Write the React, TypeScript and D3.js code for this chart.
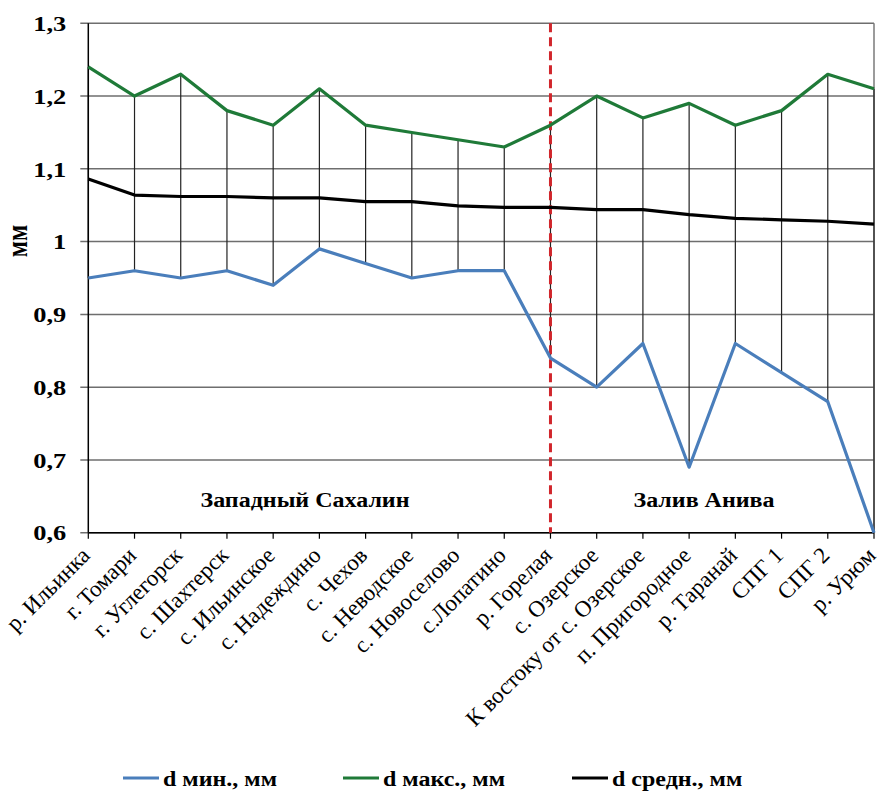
import React from "react";
import * as d3 from "d3";

const categories = [
  "р. Ильинка", "г. Томари", "г. Углегорск", "с. Шахтерск", "с. Ильинское",
  "с. Надеждино", "с. Чехов", "с. Неводское", "с. Новоселово", "с.Лопатино",
  "р. Горелая", "с. Озерское", "К востоку от с. Озерское", "п. Пригородное",
  "р. Таранай", "СПГ 1", "СПГ 2", "р. Урюм",
];
const dMin = [0.95, 0.96, 0.95, 0.96, 0.94, 0.99, 0.97, 0.95, 0.96, 0.96, 0.84, 0.80, 0.86, 0.69, 0.86, 0.82, 0.78, 0.60];
const dMax = [1.24, 1.20, 1.23, 1.18, 1.16, 1.21, 1.16, 1.15, 1.14, 1.13, 1.16, 1.20, 1.17, 1.19, 1.16, 1.18, 1.23, 1.21];
const dMean = [1.086, 1.064, 1.062, 1.062, 1.060, 1.060, 1.055, 1.055, 1.049, 1.047, 1.047, 1.044, 1.044, 1.037, 1.032, 1.030, 1.028, 1.024];
const yTicks = [0.6, 0.7, 0.8, 0.9, 1.0, 1.1, 1.2, 1.3];
const seriesNames = ["d мин., мм", "d макс., мм", "d средн., мм"];
const regionLabels = ["Западный Сахалин", "Залив Анива"];
const dividerIndex = 10;

const W = 880, H = 791;
const left = 88.3, right = 874, top = 23.3, bottom = 532.7;
const SX = 1.2;
const serif = '"Liberation Serif", "Times New Roman", serif';
const colors = ["#4a7ebb", "#1f7a38", "#000000"];

export default function App() {
  const x = d3.scalePoint<number>().domain(d3.range(categories.length)).range([left, right]);
  const y = d3.scaleLinear().domain([0.6, 1.3]).range([bottom, top]);
  const line = d3.line<number>().x((_, i) => x(i)!).y((d) => y(d));
  const series = [dMin, dMax, dMean];
  const fmt = (v: number) => (Math.abs(v - 1) < 1e-9 ? "1" : v.toFixed(1).replace(".", ","));
  const boldStyle = { fontFamily: serif, fontWeight: 700 as const };

  return (
    <svg width={W} height={H} style={{ position: "absolute", left: 0, top: 0, background: "#fff", fontFamily: serif }}>
      {yTicks.map((t) => (
        <line key={"g" + t} x1={left - 8} x2={right} y1={y(t)} y2={y(t)} stroke="#6e6e6e" strokeWidth={1.5} />
      ))}
      <line x1={right} x2={right} y1={top} y2={bottom} stroke="#7a7a7a" strokeWidth={1.5} />
      {categories.map((_, i) => {
        const hi = Math.max(dMin[i], dMax[i], dMean[i]);
        const lo = Math.min(dMin[i], dMax[i], dMean[i]);
        return <line key={"hl" + i} x1={x(i)} x2={x(i)} y1={y(hi)} y2={y(lo)} stroke="#222" strokeWidth={1.2} />;
      })}
      <line x1={left} x2={left} y1={top} y2={bottom} stroke="#000" strokeWidth={1.5} />
      <line x1={left} x2={right} y1={bottom} y2={bottom} stroke="#000" strokeWidth={1.5} />
      {categories.map((_, i) => (
        <line key={"t" + i} x1={x(i)} x2={x(i)} y1={bottom} y2={bottom + 6} stroke="#000" strokeWidth={1.2} />
      ))}
      <line x1={x(dividerIndex)} x2={x(dividerIndex)} y1={top} y2={bottom} stroke="#d1262c" strokeWidth={3} strokeDasharray="9,5" />
      {series.map((s, k) => (
        <path key={"s" + k} d={line(s) || ""} fill="none" stroke={colors[k]} strokeWidth={3.2} strokeLinejoin="round" />
      ))}
      {yTicks.map((t) => (
        <text key={"yl" + t} transform={`translate(${left - 22},${y(t)}) scale(${SX},1)`} textAnchor="end" dy="0.35em" fontSize={22} style={boldStyle}>
          {fmt(t)}
        </text>
      ))}
      <text transform={`translate(27,241) scale(${SX},1) rotate(-90)`} textAnchor="middle" fontSize={24} style={boldStyle}>мм</text>
      {categories.map((c, i) => (
        <text key={"c" + i} transform={`translate(${x(i)! + 3},${bottom + 24}) rotate(-45)`} textAnchor="end" fontSize={23}>
          {c}
        </text>
      ))}
      <text transform={`translate(${(202 + 408) / 2},507) scale(${SX},1)`} textAnchor="middle" fontSize={20} style={boldStyle}>{regionLabels[0]}</text>
      <text transform={`translate(${(635 + 773) / 2},507) scale(${SX},1)`} textAnchor="middle" fontSize={20} style={boldStyle}>{regionLabels[1]}</text>
      {[123, 343, 572].map((lx, k) => (
        <g key={"lg" + k}>
          <line x1={lx} x2={lx + 36} y1={778} y2={778} stroke={colors[k]} strokeWidth={3.2} />
          <text transform={`translate(${lx + 40},786) scale(${SX},1)`} fontSize={20} style={boldStyle}>{seriesNames[k]}</text>
        </g>
      ))}
    </svg>
  );
}
